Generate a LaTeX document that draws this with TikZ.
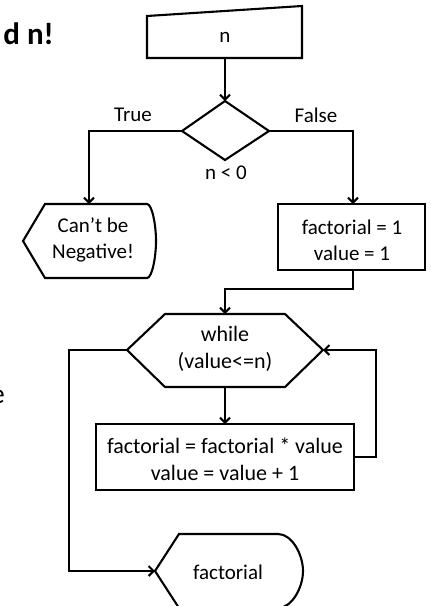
\documentclass[tikz,border=0pt]{standalone}
\usepackage{fontspec}
\setmainfont{Carlito}
\usetikzlibrary{arrows.meta}
\tikzset{
  shp/.style={draw, line width=2.1pt, line join=miter},
  conn/.style={line width=2.1pt},
  arr/.style={conn, -{Straight Barb[length=5pt,width=10pt]}},
  lbl/.style={font=\fontsize{21}{26}\selectfont, align=center, inner sep=0pt},
  lblg/.style={font=\fontsize{22}{27}\selectfont, align=center, inner sep=0pt},
}
\begin{document}
\begin{tikzpicture}[x=1pt,y=-1pt]
\useasboundingbox (0,0) rectangle (431,606);

% partial slide texts
\node[anchor=base east, inner sep=0pt, font=\fontsize{31}{36}\selectfont\bfseries] (title) at (54,44) {d n!};
\node[anchor=base east, inner sep=0pt, font=\fontsize{28}{32}\selectfont] (frag) at (5,403) {e};

% input
\draw[shp] (147,16) -- (302,6) -- (302,58) -- (147,58) -- cycle;
\node[lbl] (input) at (225,37) {n};

% decision
\draw[shp] (225,101) -- (269,131) -- (225,160) -- (182,131) -- cycle;
\node[lbl] (cond) at (226,173) {n < 0};
\node[lbl] (true) at (133,115) {True};
\node[lbl] (false) at (316,115) {False};

% display negative
\draw[shp] (23,241) -- (45,204) -- (147,204)
  .. controls (152,204) and (156,224.6) .. (156,241)
  .. controls (156,257.4) and (152,278) .. (147,278)
  -- (45,278) -- cycle;
\node[lbl] (neg) at (93,240) {Can’t be\\Negative!};

% init
\draw[shp] (278,204) rectangle (425,270);
\node[lbl] (init) at (352,240) {factorial = 1\\value = 1};

% while hexagon
\draw[shp] (127,350) -- (165,314) -- (285,314) -- (323,350) -- (285,387) -- (165,387) -- cycle;
\node[lblg] (while) at (225,349) {while\\(value<=n)};

% body
\draw[shp] (96,424) rectangle (354,490);
\node[lblg] (body) at (225,459) {factorial = factorial * value\\value = value + 1};

% output
\draw[shp] (155,571) -- (179,534) -- (278,534)
  .. controls (292,534) and (303,554.6) .. (303,571)
  .. controls (303,587.4) and (292,608) .. (278,608)
  -- (179,608) -- cycle;
\node[lbl] (outtxt) at (228,572) {factorial};

% anchor points
\coordinate (in-b) at (225,58);
\coordinate (d-t) at (225,101);
\coordinate (d-l) at (182,131);
\coordinate (d-r) at (269,131);
\coordinate (neg-t) at (89,204);
\coordinate (init-t) at (353,204);
\coordinate (init-b) at (353,270);
\coordinate (j1) at (353,289);
\coordinate (hex-t) at (225,314);
\coordinate (hex-l) at (127,350);
\coordinate (hex-r) at (323,350);
\coordinate (hex-b) at (225,387);
\coordinate (body-t) at (225,424);
\coordinate (body-r) at (354,457);
\coordinate (lp) at (376,350);
\coordinate (ex) at (69,350);
\coordinate (out-l) at (155,571);

% connectors
\draw[arr] (in-b) -- (d-t);
\draw[arr] (d-l) -| (neg-t);
\draw[arr] (d-r) -| (init-t);
\draw[arr] (init-b) -- (j1) -| (hex-t);
\draw[arr] (hex-b) -- (body-t);
\draw[arr] (body-r) -| (lp) -- (hex-r);
\draw[arr] (hex-l) -- (ex) |- (out-l);
\end{tikzpicture}
\end{document}
